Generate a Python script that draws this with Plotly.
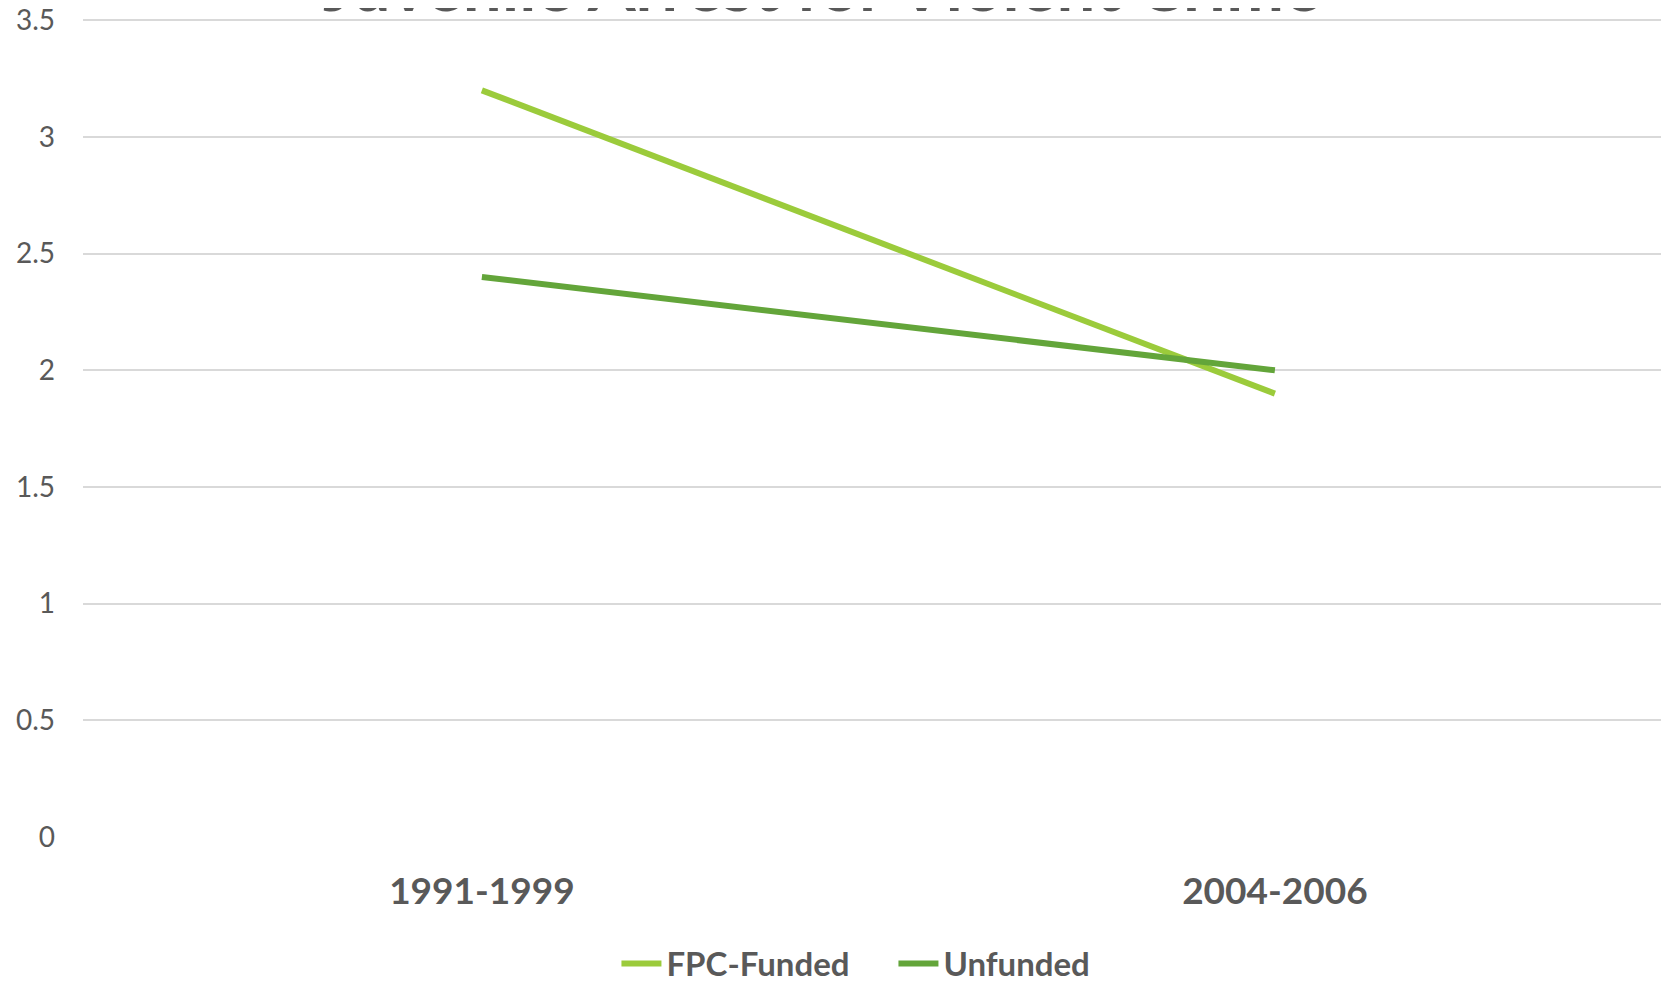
import plotly.graph_objects as go

categories = ["1991-1999", "2004-2006"]
fpc_funded = [3.2, 1.9]
unfunded = [2.4, 2.0]
y_ticks = [0, 0.5, 1, 1.5, 2, 2.5, 3, 3.5]
y_tick_labels = ["0", "0.5", "1", "1.5", "2", "2.5", "3", "3.5"]
title_text = "Juvenile Arrest for Violent Crime"

FONT = "Lato"
GREY = "#595959"

fig = go.Figure()
fig.add_trace(go.Scatter(x=categories, y=fpc_funded, mode="lines", name="FPC-Funded",
                         line=dict(color="#9BCB3B", width=6)))
fig.add_trace(go.Scatter(x=categories, y=unfunded, mode="lines", name="Unfunded",
                         line=dict(color="#63A53A", width=6)))

fig.update_layout(
    width=1669, height=981,
    margin=dict(l=75, r=8, t=10, b=152, autoexpand=False),
    paper_bgcolor="white", plot_bgcolor="white",
    font=dict(family=FONT, color=GREY),
    showlegend=True,
    legend=dict(orientation="h", x=0.511, xanchor="center", y=-0.1545, yanchor="middle",
                font=dict(family=FONT, size=33, color=GREY, weight="bold"),
                itemwidth=40, tracegroupgap=0, entrywidth=222),
    annotations=[dict(text=title_text, xref="paper", yref="paper", x=0.466, y=1.0,
                      yshift=-10, xanchor="center", yanchor="bottom", showarrow=False,
                      font=dict(family=FONT, size=69, color=GREY, weight="bold"))],
)
fig.update_xaxes(type="category", range=[-0.503, 1.497], showgrid=False, showline=False,
                 zeroline=False, ticks="", ticklabelstandoff=29, automargin=False,
                 tickfont=dict(family=FONT, size=37, color=GREY, weight="bold"))
fig.update_yaxes(range=[0, 3.51], tickvals=y_ticks, ticktext=y_tick_labels,
                 showgrid=True, gridcolor="#D9D9D9", gridwidth=1.5, zeroline=False,
                 showline=False, ticks="", ticklabelstandoff=27, automargin=False,
                 ticklabeloverflow="allow",
                 tickfont=dict(family=FONT, size=28, color=GREY))

fig.write_html("out.html")
